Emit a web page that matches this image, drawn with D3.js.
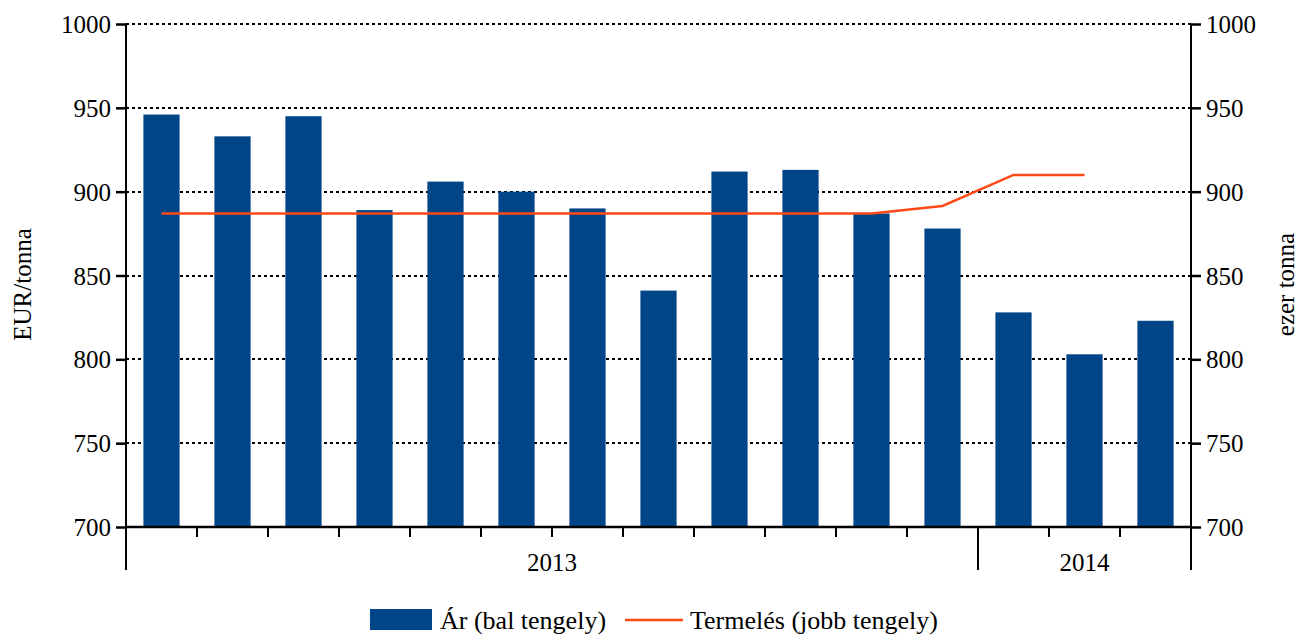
<!DOCTYPE html>
<html>
<head>
<meta charset="utf-8">
<script src="https://cdn.jsdelivr.net/npm/d3@7"></script>
<style>
  body { margin: 0; background: #fff; }
  svg text { font-family: "Liberation Serif", "Times New Roman", serif !important; fill: #000; }
</style>
</head>
<body>
<div id="chart"></div>
<script>
// monthly values, 2013 Jan .. 2014 Mar
const months = d3.range(15);
const price = [946, 933, 945, 889, 906, 900, 890, 841, 912, 913, 887, 878, 828, 803, 823];
const production = [887, 887, 887, 887, 887, 887, 887, 887, 887, 887, 887, 891.5, 910, 910];
const years = [{ label: "2013", from: 0, to: 12 }, { label: "2014", from: 12, to: 15 }];
const yTicks = [700, 750, 800, 850, 900, 950, 1000];

const W = 1300, H = 635;
const margin = { top: 24, right: 109, bottom: 108, left: 126 };
const BAR_COLOR = "#004588";
const LINE_COLOR = "#ff4a17";
const FONT = "25px";
const LEGEND_FONT = "26px";

const svg = d3.select("#chart").append("svg")
  .attr("width", W)
  .attr("height", H);

const x = d3.scaleBand().domain(months).range([margin.left, W - margin.right]).paddingInner(0.49).paddingOuter(0.245);
const yL = d3.scaleLinear().domain([700, 1000]).range([H - margin.bottom, margin.top]);
const yR = d3.scaleLinear().domain([700, 1000]).range([H - margin.bottom, margin.top]);
const step = x.step();
const xEdge = i => margin.left + i * step;

// dotted grid
svg.append("g")
  .selectAll("line")
  .data(yTicks.slice(1))
  .join("line")
  .attr("x1", margin.left).attr("x2", W - margin.right)
  .attr("y1", d => Math.round(yL(d))).attr("y2", d => Math.round(yL(d)))
  .attr("stroke", "#000")
  .attr("stroke-width", 2)
  .attr("stroke-dasharray", "3,3");

// bars
svg.append("g")
  .selectAll("rect")
  .data(price)
  .join("rect")
  .attr("x", (_, i) => x(i))
  .attr("width", x.bandwidth())
  .attr("y", d => yL(d))
  .attr("height", d => yL(700) - yL(d))
  .attr("fill", BAR_COLOR);

// production line
svg.append("path")
  .datum(production)
  .attr("fill", "none")
  .attr("stroke", LINE_COLOR)
  .attr("stroke-width", 2.5)
  .attr("d", d3.line().x((_, i) => x(i) + x.bandwidth() / 2).y(d => yR(d)));

// left axis
const left = svg.append("g")
  .attr("transform", `translate(${margin.left},0)`)
  .call(d3.axisLeft(yL).tickValues(yTicks).tickFormat(d3.format("d")).tickSize(10).tickPadding(5));
left.select(".domain").remove();
left.selectAll("line").attr("stroke-width", 2.5);
left.selectAll("text").style("font-size", FONT).attr("dy", "0.34em");

// right axis
const right = svg.append("g")
  .attr("transform", `translate(${W - margin.right},0)`)
  .call(d3.axisRight(yR).tickValues(yTicks).tickFormat(d3.format("d")).tickSize(10).tickPadding(5));
right.select(".domain").remove();
right.selectAll("line").attr("stroke-width", 2.5);
right.selectAll("text").style("font-size", FONT).attr("dy", "0.34em");

// vertical axis lines (extend down into the category area)
const yBase = yL(700);
const yLong = yBase + 43;
[margin.left, W - margin.right].forEach(px => {
  svg.append("line")
    .attr("x1", px).attr("x2", px)
    .attr("y1", margin.top).attr("y2", yLong)
    .attr("stroke", "#000").attr("stroke-width", 2);
});

// baseline
svg.append("line")
  .attr("x1", margin.left).attr("x2", W - margin.right)
  .attr("y1", yBase).attr("y2", yBase)
  .attr("stroke", "#000").attr("stroke-width", 2.5);

// month ticks and year separators
svg.append("g")
  .selectAll("line")
  .data(d3.range(1, 15))
  .join("line")
  .attr("x1", d => xEdge(d)).attr("x2", d => xEdge(d))
  .attr("y1", yBase).attr("y2", d => years.some(yr => yr.from === d) ? yLong : yBase + 10)
  .attr("stroke", "#000").attr("stroke-width", 2);

svg.append("g")
  .selectAll("text")
  .data(years)
  .join("text")
  .attr("x", d => (xEdge(d.from) + xEdge(d.to)) / 2)
  .attr("y", yBase + 44)
  .attr("text-anchor", "middle")
  .style("font-size", FONT)
  .text(d => d.label);

// axis titles
svg.append("text")
  .attr("transform", `translate(31,${(margin.top + yBase) / 2 + 9}) rotate(-90)`)
  .attr("text-anchor", "middle")
  .style("font-size", FONT)
  .text("EUR/tonna");
svg.append("text")
  .attr("transform", `translate(1294,${(margin.top + yBase) / 2 + 9}) rotate(-90)`)
  .attr("text-anchor", "middle")
  .style("font-size", FONT)
  .text("ezer tonna");

// legend
const lg = svg.append("g").attr("transform", "translate(370,620)");
lg.append("rect").attr("x", 0).attr("y", -11).attr("width", 62).attr("height", 21).attr("fill", BAR_COLOR);
lg.append("text").attr("x", 70).attr("y", 0).attr("dy", "0.34em").style("font-size", LEGEND_FONT).text("Ár (bal tengely)");
lg.append("line").attr("x1", 255).attr("x2", 313).attr("y1", 0).attr("y2", 0).attr("stroke", LINE_COLOR).attr("stroke-width", 2.5);
lg.append("text").attr("x", 320).attr("y", 0).attr("dy", "0.34em").style("font-size", LEGEND_FONT).text("Termelés (jobb tengely)");
</script>
</body>
</html>
